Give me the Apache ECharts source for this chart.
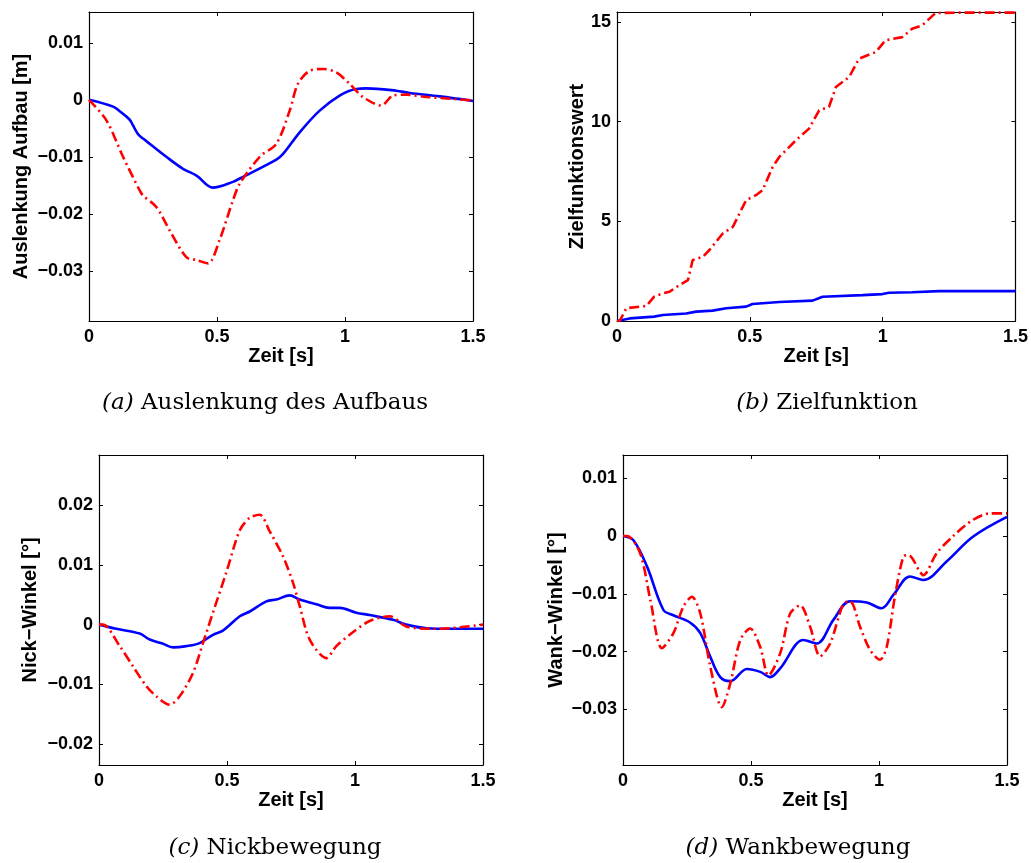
<!DOCTYPE html>
<html>
<head>
<meta charset="utf-8">
<script src="https://cdn.jsdelivr.net/npm/echarts@6/dist/echarts.min.js"></script>
<style>
html,body{margin:0;padding:0;background:#fff;}
#chart{width:1031px;height:863px;}
</style>
</head>
<body>
<div id="chart"></div>
<script>
// ---------- data ----------
const xTicks = [0, 0.5, 1, 1.5];
const xTickLabels = ['0', '0.5', '1', '1.5'];

const aYTicks = [-0.03, -0.02, -0.01, 0, 0.01];
const aYTickLabels = ['\u22120.03', '\u22120.02', '\u22120.01', '0', '0.01'];
const bYTicks = [0, 5, 10, 15];
const bYTickLabels = ['0', '5', '10', '15'];
const cYTicks = [-0.02, -0.01, 0, 0.01, 0.02];
const cYTickLabels = ['\u22120.02', '\u22120.01', '0', '0.01', '0.02'];
const dYTicks = [-0.03, -0.02, -0.01, 0, 0.01];
const dYTickLabels = ['\u22120.03', '\u22120.02', '\u22120.01', '0', '0.01'];

const yTitles = ['Auslenkung Aufbau [m]', 'Zielfunktionswert', 'Nick\u2212Winkel [\u00b0]', 'Wank\u2212Winkel [\u00b0]'];
const xTitle = 'Zeit [s]';
const captions = [['(a)', 'Auslenkung des Aufbaus'], ['(b)', 'Zielfunktion'], ['(c)', 'Nickbewegung'], ['(d)', 'Wankbewegung']];

// (a) Auslenkung des Aufbaus
const aBlueT = [0, 0.094, 0.12, 0.159, 0.172, 0.191, 0.211, 0.237, 0.302, 0.367, 0.42, 0.484, 0.5625, 0.589, 0.732, 0.758, 0.823, 0.901, 0.979, 1.044, 1.084, 1.2, 1.253, 1.37, 1.5];
const aBlueY = [0, -0.0012, -0.002, -0.0035, -0.0045, -0.006, -0.0068, -0.0077, -0.010, -0.0121, -0.0133, -0.0154, -0.0144, -0.0138, -0.0105, -0.0095, -0.0057, -0.0019, 0.00075, 0.0019, 0.0020, 0.0016, 0.0012, 0.0006, -0.0002];
const aRedT = [0, 0.068, 0.133, 0.198, 0.211, 0.263, 0.315, 0.38, 0.42, 0.465, 0.51, 0.5625, 0.589, 0.667, 0.732, 0.784, 0.816, 0.862, 0.914, 0.966, 1.018, 1.07, 1.142, 1.188, 1.24, 1.318, 1.5];
const aRedY = [0, -0.0036, -0.010, -0.0159, -0.0168, -0.0188, -0.0229, -0.0276, -0.0281, -0.0287, -0.0246, -0.0176, -0.0147, -0.010, -0.0077, -0.0019, 0.0028, 0.0051, 0.0054, 0.0048, 0.0028, 0.0005, -0.001, 0.00075, 0.0009, 0.0005, -0.0001];

// (b) Zielfunktion
const bBlueT = [0, 0.048, 0.14, 0.173, 0.26, 0.298, 0.36, 0.411, 0.486, 0.51, 0.611, 0.736, 0.774, 0.924, 0.999, 1.024, 1.111, 1.212, 1.5];
const bBlueY = [0, 0.13, 0.22, 0.3, 0.38, 0.47, 0.52, 0.64, 0.72, 0.85, 0.95, 1.02, 1.22, 1.30, 1.35, 1.42, 1.44, 1.5, 1.5];
const bRedT = [0, 0.01, 0.035, 0.085, 0.11, 0.14, 0.173, 0.198, 0.235, 0.267, 0.285, 0.323, 0.348, 0.398, 0.436, 0.486, 0.523, 0.548, 0.586, 0.611, 0.674, 0.723, 0.761, 0.798, 0.824, 0.874, 0.911, 0.974, 1.011, 1.074, 1.111, 1.149, 1.199, 1.3, 1.5];
const bRedY = [0, 0, 0.64, 0.72, 0.75, 1.22, 1.39, 1.47, 1.8, 2.05, 3.06, 3.22, 3.56, 4.39, 4.72, 6.06, 6.31, 6.56, 7.73, 8.23, 9.07, 9.65, 10.57, 10.74, 11.74, 12.24, 13.16, 13.49, 14.08, 14.24, 14.66, 14.83, 15.45, 15.47, 15.47];

// (c) Nickbewegung
const cBlueT = [0, 0.068, 0.159, 0.198, 0.25, 0.289, 0.341, 0.393, 0.445, 0.484, 0.55, 0.589, 0.654, 0.693, 0.745, 0.784, 0.849, 0.901, 0.94, 1.005, 1.057, 1.149, 1.2, 1.279, 1.37, 1.5];
const cBlueY = [0, -0.0007, -0.0015, -0.0025, -0.0032, -0.0038, -0.0036, -0.0031, -0.0017, -0.001, 0.0014, 0.0022, 0.0039, 0.0042, 0.0049, 0.0042, 0.0034, 0.0028, 0.0028, 0.002, 0.0016, 0.0008, 0, -0.0006, -0.0007, -0.0007];
const cRedT = [0, 0.016, 0.081, 0.133, 0.185, 0.224, 0.276, 0.315, 0.367, 0.406, 0.445, 0.497, 0.55, 0.589, 0.628, 0.667, 0.719, 0.758, 0.784, 0.823, 0.888, 0.927, 0.979, 1.057, 1.136, 1.2, 1.292, 1.37, 1.5];
const cRedY = [0, 0, -0.0036, -0.007, -0.0103, -0.012, -0.0134, -0.012, -0.0081, -0.0031, 0.002, 0.0087, 0.0158, 0.0179, 0.0184, 0.0156, 0.0114, 0.007, 0.0031, -0.0025, -0.0056, -0.0036, -0.0017, 0.0006, 0.0014, -0.0003, -0.0007, -0.0006, 0];

// (d) Wankbewegung
const dBlueT = [0, 0.04, 0.094, 0.158, 0.197, 0.263, 0.302, 0.341, 0.38, 0.419, 0.484, 0.536, 0.575, 0.614, 0.705, 0.757, 0.822, 0.887, 0.952, 1.01, 1.056, 1.121, 1.173, 1.264, 1.368, 1.5];
const dBlueY = [0, -0.0007, -0.0053, -0.0128, -0.0137, -0.015, -0.0168, -0.0209, -0.0244, -0.0251, -0.023, -0.0235, -0.0244, -0.0229, -0.018, -0.0186, -0.0145, -0.0113, -0.0115, -0.0125, -0.0102, -0.007, -0.0076, -0.0044, -0.0001, 0.0033];
const dRedT = [0, 0.016, 0.067, 0.107, 0.152, 0.197, 0.236, 0.269, 0.302, 0.341, 0.386, 0.419, 0.458, 0.497, 0.536, 0.568, 0.614, 0.653, 0.692, 0.731, 0.77, 0.809, 0.861, 0.887, 0.926, 0.965, 1.004, 1.03, 1.062, 1.095, 1.115, 1.16, 1.173, 1.225, 1.29, 1.368, 1.433, 1.5];
const dRedY = [0, 0, -0.003, -0.0111, -0.0194, -0.0168, -0.0122, -0.0105, -0.0134, -0.0226, -0.0296, -0.0255, -0.018, -0.016, -0.0192, -0.0241, -0.0203, -0.0134, -0.012, -0.0157, -0.0208, -0.0186, -0.0117, -0.0113, -0.0157, -0.0197, -0.0214, -0.0192, -0.0105, -0.0036, -0.0033, -0.0062, -0.0068, -0.003, 0, 0.0028, 0.0039, 0.0039];

// ---------- layout ----------
const grids = [
  {left: 89, top: 12, width: 384, height: 309},
  {left: 617, top: 12, width: 399, height: 309},
  {left: 99, top: 455, width: 384, height: 310},
  {left: 623, top: 455, width: 384, height: 310}
];
const yRanges = [[-0.0388, 0.0154], [0, 15.5], [-0.0235, 0.0284], [-0.0396, 0.0140]];
const yTickSets = [aYTicks, bYTicks, cYTicks, dYTicks];
const yLabelSets = [aYTickLabels, bYTickLabels, cYTickLabels, dYTickLabels];
const yNameGaps = [58, 30, 59, 57];
const captionPos = [[265, 403], [827, 403], [275, 848], [798, 848]];
const blueSets = [[aBlueT, aBlueY], [bBlueT, bBlueY], [cBlueT, cBlueY], [dBlueT, dBlueY]];
const redSets = [[aRedT, aRedY], [bRedT, bRedY], [cRedT, cRedY], [dRedT, dRedY]];

const FONT = '"Liberation Sans", Arial, sans-serif';
const labelStyle = {fontFamily: FONT, fontWeight: 'bold', fontSize: 18, color: '#000'};
const nameStyle = {fontFamily: FONT, fontWeight: 'bold', fontSize: 20, color: '#000'};
const axisLine = {show: true, onZero: false, lineStyle: {color: '#000', width: 1.2}};

function lookup(ticks, labels) {
  return function (v) {
    for (let i = 0; i < ticks.length; i++) if (Math.abs(ticks[i] - v) < 1e-9) return labels[i];
    return '';
  };
}
function zip(t, y) { return t.map((v, i) => [v, y[i]]); }

const xAxis = [], yAxis = [], series = [];
grids.forEach((g, i) => {
  xAxis.push({
    type: 'value', gridIndex: i, position: 'bottom', min: 0, max: 1.5,
    axisLine: axisLine,
    axisTick: {show: true, inside: true, length: 4, customValues: xTicks, lineStyle: {color: '#000'}},
    axisLabel: {show: true, margin: 7, customValues: xTicks, formatter: lookup(xTicks, xTickLabels), ...labelStyle},
    splitLine: {show: false},
    name: xTitle, nameLocation: 'middle', nameGap: 23, nameTextStyle: nameStyle
  });
  xAxis.push({
    type: 'value', gridIndex: i, position: 'top', min: 0, max: 1.5,
    axisLine: axisLine,
    axisTick: {show: true, inside: true, length: 4, customValues: xTicks, lineStyle: {color: '#000'}},
    axisLabel: {show: false}, splitLine: {show: false}
  });
  yAxis.push({
    type: 'value', gridIndex: i, position: 'left', min: yRanges[i][0], max: yRanges[i][1],
    axisLine: axisLine,
    axisTick: {show: true, inside: true, length: 4, customValues: yTickSets[i], lineStyle: {color: '#000'}},
    axisLabel: {show: true, margin: 6, customValues: yTickSets[i], formatter: lookup(yTickSets[i], yLabelSets[i]), ...labelStyle},
    splitLine: {show: false},
    name: yTitles[i], nameLocation: 'middle', nameRotate: 90, nameGap: yNameGaps[i], nameTextStyle: nameStyle
  });
  yAxis.push({
    type: 'value', gridIndex: i, position: 'right', min: yRanges[i][0], max: yRanges[i][1],
    axisLine: axisLine,
    axisTick: {show: true, inside: true, length: 4, customValues: yTickSets[i], lineStyle: {color: '#000'}},
    axisLabel: {show: false}, splitLine: {show: false}
  });
  series.push({
    type: 'line', xAxisIndex: 2 * i, yAxisIndex: 2 * i, data: zip(blueSets[i][0], blueSets[i][1]),
    showSymbol: false, symbol: 'none', smooth: i === 1 ? false : 0.35, clip: true,
    lineStyle: {color: '#0000ff', width: 2.6}, z: 2
  });
  series.push({
    type: 'line', xAxisIndex: 2 * i, yAxisIndex: 2 * i, data: zip(redSets[i][0], redSets[i][1]),
    showSymbol: false, symbol: 'none', smooth: i === 1 ? false : 0.3, clip: true,
    lineStyle: {color: '#ff0000', width: 2.6, type: [10, 4, 2, 4]}, z: 3
  });
});

const chart = echarts.init(document.getElementById('chart'), null, {renderer: 'canvas'});
chart.setOption({
  animation: false,
  backgroundColor: '#fff',
  grid: grids.map(g => ({...g, containLabel: false, show: false})),
  xAxis: xAxis, yAxis: yAxis, series: series,
  graphic: captions.map((c, i) => ({
    type: 'text',
    x: captionPos[i][0], y: captionPos[i][1],
    style: {
      text: '{it|' + c[0] + '} ' + c[1],
      fontFamily: 'DejaVu Serif', fontSize: 23, fill: '#000',
      align: 'center', verticalAlign: 'middle',
      rich: {it: {fontStyle: 'italic', fontFamily: 'DejaVu Serif', fontSize: 23}}
    }
  }))
});
</script>
</body>
</html>
